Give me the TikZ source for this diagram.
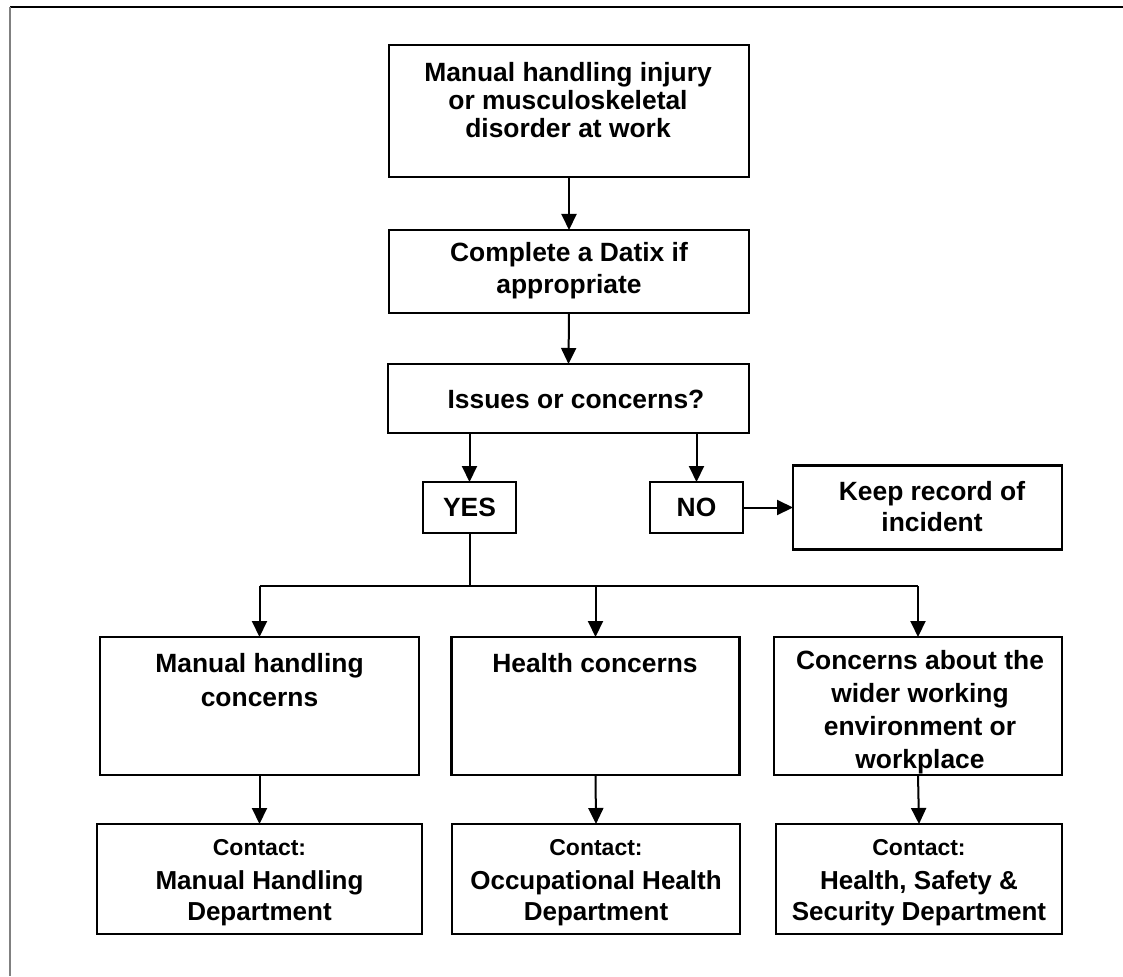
\documentclass[tikz,border=0pt]{standalone}
\usepackage{fontspec}
\setmainfont{Liberation Sans}
\usetikzlibrary{arrows.meta}
\tikzset{
  box/.style={draw=black, line width=2.2pt, inner sep=0pt, outer sep=0pt},
  lbl/.style={font=\bfseries\fontsize{26.4}{#1}\selectfont, align=center, inner sep=0pt},
  lbl/.default=31,
  arr/.style={-{Triangle[length=16pt,width=15pt]}, line width=2pt},
  con/.style={line width=2pt}
}
\newcommand{\ctsmall}{\fontsize{23}{26}\selectfont}
\newcommand{\ctbig}{\fontsize{26}{33}\selectfont}
\begin{document}
\begin{tikzpicture}[x=1pt,y=-1pt]
\useasboundingbox (0,0) rectangle (1123,976);
% frame
\coordinate (ftl) at (10,7);
\coordinate (ftr) at (1123,7);
\coordinate (fbl) at (10,976);
\draw[line width=1.8pt] (ftl) -- (ftr);
\draw[line width=1.4pt, gray] (ftl) -- (fbl);
% top chain
\node[box, minimum width=360, minimum height=132] (n1) at (569,111) {};
\node[lbl=28] (t1) at (568,100) {Manual handling injury\\or musculoskeletal\\disorder at work};
\node[box, minimum width=360, minimum height=83] (n2) at (569,271.5) {};
\node[lbl=32] (t2) at (569,271) {Complete a Datix if\\appropriate};
\node[box, minimum width=361, minimum height=69] (n3) at (568.5,398.5) {};
\node[lbl] (t3) at (576,399) {Issues or concerns?};
\draw[arr] (n1.south) -- (n2.north);
\draw[arr] (n2.south) -- (n3.north);
% yes / no
\node[box, minimum width=93, minimum height=51] (yes) at (469.5,507.5) {};
\node[lbl] (tyes) at (469.5,507.5) {YES};
\node[box, minimum width=93, minimum height=51] (no) at (696.5,507.5) {};
\node[lbl] (tno) at (696.5,507.5) {NO};
\node[box, minimum width=269, minimum height=84] (keep) at (927.5,507.5) {};
\node[lbl] (tkeep) at (932,507) {Keep record of\\incident};
\draw[arr] (n3.south -| yes.north) -- (yes.north);
\draw[arr] (n3.south -| no.north) -- (no.north);
\draw[arr] (no.east) -- (keep.west);
% second row
\node[box, minimum width=319, minimum height=138] (mh) at (259.5,706) {};
\node[lbl=34] (tmh) at (259.5,680) {Manual handling\\concerns};
\node[box, minimum width=288, minimum height=138] (hc) at (595.5,706) {};
\node[lbl] (thc) at (595,663) {Health concerns};
\node[box, minimum width=288, minimum height=138] (cw) at (918,706) {};
\node[lbl=33] (tcw) at (920,712) {Concerns about the\\wider working\\environment or\\workplace};
\coordinate (jy) at (0,586);
\draw[con] (yes.south) -- (yes.south |- jy);
\draw[con] (mh.north |- jy) -- (cw.north |- jy);
\draw[arr] (mh.north |- jy) -- (mh.north);
\draw[arr] (hc.north |- jy) -- (hc.north);
\draw[arr] (cw.north |- jy) -- (cw.north);
% contact row
\node[box, minimum width=325, minimum height=110] (c1) at (259.5,879) {};
\node[box, minimum width=288, minimum height=110] (c2) at (596,879) {};
\node[box, minimum width=286, minimum height=110] (c3) at (919,879) {};
\node[lbl] (tc1) at (259.5,883) {{\ctsmall Contact:}\\[3pt]{\ctbig Manual Handling}\\{\ctbig Department}};
\node[lbl] (tc2) at (596,883) {{\ctsmall Contact:}\\[3pt]{\ctbig Occupational Health}\\{\ctbig Department}};
\node[lbl] (tc3) at (919,883) {{\ctsmall Contact:}\\[3pt]{\ctbig Health, Safety \&}\\{\ctbig Security Department}};
\draw[arr] (mh.south) -- (c1.north);
\draw[arr] (hc.south) -- (c2.north);
\draw[arr] (cw.south) -- (c3.north);
\end{tikzpicture}
\end{document}
